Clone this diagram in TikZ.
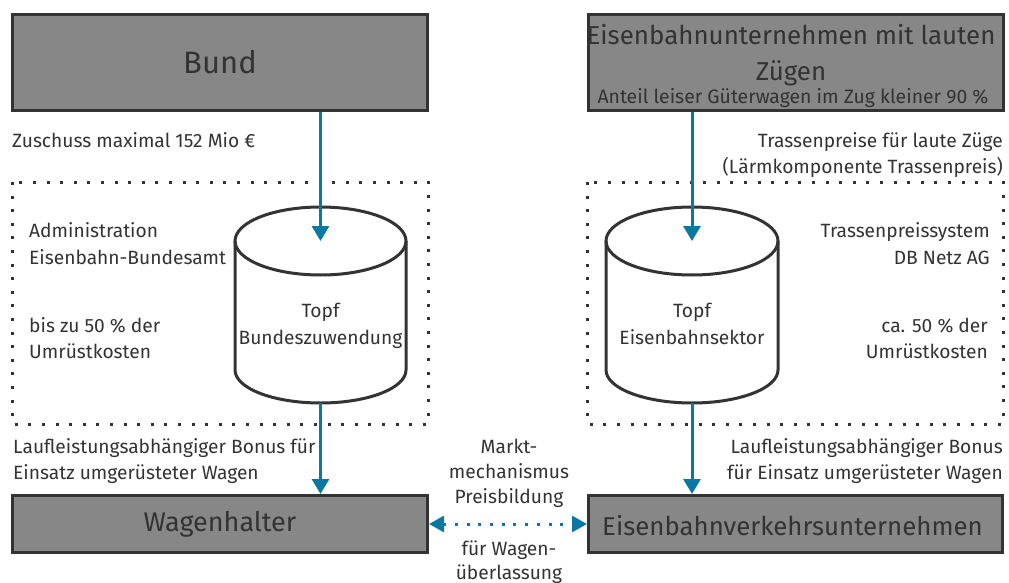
\documentclass[tikz,border=0pt]{standalone}
\usepackage{fontspec}
\setmainfont{Fira Sans}
\usetikzlibrary{arrows.meta}
\definecolor{boxgray}{HTML}{878787}
\definecolor{dark}{HTML}{333333}
\definecolor{dbblue}{HTML}{0A78A2}
\tikzset{
  bigbox/.style={draw=dark, line width=3pt, fill=boxgray, inner sep=0pt, text=dark},
  lbl/.style={inner sep=0pt, text=dark, font=\fontsize{19.2}{26.5}\selectfont},
  cyl/.style={draw=dark, line width=3pt},
  dotbox/.style={draw=dark, line width=3pt, dash pattern=on 3pt off 10.6pt},
  flow/.style={draw=dbblue, line width=3pt, -{Triangle[width=17pt,length=15pt]}},
  market/.style={draw=dbblue, line width=3pt, dash pattern=on 3pt off 8.7pt,
    {Triangle[width=16pt,length=15pt]}-{Triangle[width=16pt,length=15pt]}}
}
\begin{document}
\begin{tikzpicture}[x=1pt,y=-1pt]
\useasboundingbox (0,0) rectangle (1009,583);
% dotted frames
\draw[dotbox] (12,182) rectangle (428,424);
\draw[dotbox] (587,182) rectangle (1003,424);
% boxes
\node[bigbox, minimum width=415pt, minimum height=96pt, font=\fontsize{31}{36}\selectfont] (bund) at (220,62.5) {Bund};
\node[bigbox, minimum width=415pt, minimum height=96pt] (evu) at (796,62.5) {};
\node[inner sep=0pt, text=dark, anchor=base, font=\fontsize{25.9}{36}\selectfont] (evut1) at (791,45) {Eisenbahnunternehmen mit lauten};
\node[inner sep=0pt, text=dark, anchor=base, font=\fontsize{25.9}{36}\selectfont] (evut2) at (791,81) {Zügen};
\node[inner sep=0pt, text=dark, anchor=base, font=\fontsize{19.4}{24}\selectfont] (evut3) at (793,104) {Anteil leiser Güterwagen im Zug kleiner 90 \%};
\node[bigbox, minimum width=415pt, minimum height=57pt, font=\fontsize{27}{32}\selectfont] (wh) at (220,524) {Wagenhalter};
\node[bigbox, minimum width=414pt, minimum height=57pt] (vu) at (795.5,524) {};
\node[inner sep=0pt, text=dark, anchor=base, font=\fontsize{25.8}{32}\selectfont] (vut) at (792.5,535) {Eisenbahnverkehrsunternehmen};
% cylinders
\draw[cyl] (235,241) -- (235,370) arc[start angle=180, end angle=0, x radius=85.5, y radius=33] -- (406,241);
\draw[cyl] (320.5,241) ellipse[x radius=85.5, y radius=34];
\coordinate (cLtop) at (320.5,241);
\coordinate (cLbot) at (320.5,403);
\draw[cyl] (606,241) -- (606,370) arc[start angle=180, end angle=0, x radius=86, y radius=33] -- (778,241);
\draw[cyl] (692,241) ellipse[x radius=86, y radius=34];
\coordinate (cRtop) at (692,241);
\coordinate (cRbot) at (692,403);
% connectors
\draw[flow] (bund.south -| cLtop) -- (cLtop);
\draw[flow] (cLbot) -- (wh.north -| cLbot);
\draw[flow] (evu.south -| cRtop) -- (cRtop);
\draw[flow] (cRbot) -- (vu.north -| cRbot);
\draw[market] (wh.east) -- (vu.west);
% labels left
\node[lbl, anchor=base west] (l1) at (12,147) {Zuschuss maximal 152 Mio €};
\node[lbl, anchor=base west] (l2a) at (29,237) {Administration};
\node[lbl, anchor=base west] (l2b) at (29,264) {Eisenbahn-Bundesamt};
\node[lbl, anchor=base west] (l3a) at (29,332) {bis zu 50 \% der};
\node[lbl, anchor=base west] (l3b) at (29,358) {Umrüstkosten};
\node[lbl, anchor=base] (l4a) at (320.5,317) {Topf};
\node[lbl, anchor=base] (l4b) at (320.5,344) {Bundeszuwendung};
\node[lbl, anchor=base west] (l5a) at (13,453) {Laufleistungsabhängiger Bonus für};
\node[lbl, anchor=base west] (l5b) at (13,479) {Einsatz umgerüsteter Wagen};
% labels right
\node[lbl, anchor=base east] (r1a) at (1003,148) {Trassenpreise für laute Züge};
\node[lbl, anchor=base east] (r1b) at (1003,173) {(Lärmkomponente Trassenpreis)};
\node[lbl, anchor=base east] (r2a) at (990,237) {Trassenpreissystem};
\node[lbl, anchor=base east] (r2b) at (990,264) {DB Netz AG};
\node[lbl, anchor=base east] (r3a) at (988,332) {ca. 50 \% der};
\node[lbl, anchor=base east] (r3b) at (988,358) {Umrüstkosten};
\node[lbl, anchor=base] (r4a) at (692,317) {Topf};
\node[lbl, anchor=base] (r4b) at (692,344) {Eisenbahnsektor};
\node[lbl, anchor=base east] (r5a) at (1003,453) {Laufleistungsabhängiger Bonus};
\node[lbl, anchor=base east] (r5b) at (1003,479) {für Einsatz umgerüsteter Wagen};
% middle
\node[lbl, anchor=base] (m1) at (509,453) {Markt-};
\node[lbl, anchor=base] (m2) at (509,478) {mechanismus};
\node[lbl, anchor=base] (m3) at (509,503) {Preisbildung};
\node[lbl, anchor=base] (m4) at (509,555) {für Wagen-};
\node[lbl, anchor=base] (m5) at (509,579) {überlassung};
\end{tikzpicture}
\end{document}
